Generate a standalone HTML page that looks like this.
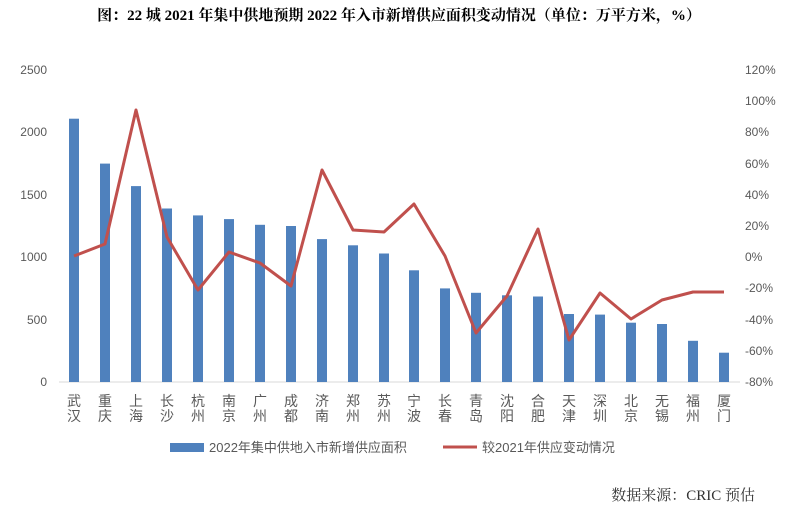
<!DOCTYPE html><html><head><meta charset="utf-8"><style>body{margin:0;background:#fff}svg{display:block}text{font-family:"Liberation Sans","Noto Sans CJK SC",sans-serif}</style></head><body>
<svg width="799" height="510" viewBox="0 0 799 510" xmlns="http://www.w3.org/2000/svg">
<text x="399" y="20" text-anchor="middle" font-size="15" font-weight="bold" style="font-family:'Liberation Serif','Noto Serif CJK SC',serif">图：22 城 2021 年集中供地预期 2022 年入市新增供应面积变动情况（单位：万平方米，%）</text>
<g font-size="12" fill="#595959" text-anchor="end">
<text x="47" y="386">0</text><text x="47" y="324">500</text><text x="47" y="261">1000</text><text x="47" y="199">1500</text><text x="47" y="136">2000</text><text x="47" y="74">2500</text>
</g>
<g font-size="12" fill="#595959" text-anchor="start">
<text x="745" y="74">120%</text><text x="745" y="105">100%</text><text x="745" y="136">80%</text><text x="745" y="168">60%</text><text x="745" y="199">40%</text><text x="745" y="230">20%</text><text x="745" y="261">0%</text><text x="745" y="292">-20%</text><text x="745" y="324">-40%</text><text x="745" y="355">-60%</text><text x="745" y="386">-80%</text>
</g>
<line x1="59" y1="382" x2="740" y2="382" stroke="#d9d9d9" stroke-width="1"/>
<g fill="#4f81bd">
<rect x="69" y="118.7" width="10" height="263.3"/>
<rect x="100" y="163.6" width="10" height="218.4"/>
<rect x="131" y="186.1" width="10" height="195.9"/>
<rect x="162" y="208.5" width="10" height="173.5"/>
<rect x="193" y="215.4" width="10" height="166.6"/>
<rect x="224" y="219.1" width="10" height="162.9"/>
<rect x="255" y="224.8" width="10" height="157.2"/>
<rect x="286" y="226" width="10" height="156"/>
<rect x="317" y="239.1" width="10" height="142.9"/>
<rect x="348" y="245.3" width="10" height="136.7"/>
<rect x="379" y="253.5" width="10" height="128.5"/>
<rect x="409" y="270.3" width="10" height="111.7"/>
<rect x="440" y="288.4" width="10" height="93.6"/>
<rect x="471" y="292.8" width="10" height="89.2"/>
<rect x="502" y="295.3" width="10" height="86.7"/>
<rect x="533" y="296.5" width="10" height="85.5"/>
<rect x="564" y="314" width="10" height="68"/>
<rect x="595" y="314.6" width="10" height="67.4"/>
<rect x="626" y="322.7" width="10" height="59.3"/>
<rect x="657" y="324" width="10" height="58"/>
<rect x="688" y="340.8" width="10" height="41.2"/>
<rect x="719" y="352.7" width="10" height="29.3"/>
</g>
<polyline fill="none" stroke="#c0504d" stroke-width="3" stroke-linejoin="round" points="74,256 105,244 136,110 167,237 198,290 229,252 260,263 291,286 322,170 353,230 384,232 414,204 445,256 476,333 507,296 538,229 569,340 600,293 631,319 662,300 693,292 724,292"/>
<g font-size="14" fill="#595959" text-anchor="middle">
<text x="74" y="406">武</text><text x="74" y="421">汉</text>
<text x="105" y="406">重</text><text x="105" y="421">庆</text>
<text x="136" y="406">上</text><text x="136" y="421">海</text>
<text x="167" y="406">长</text><text x="167" y="421">沙</text>
<text x="198" y="406">杭</text><text x="198" y="421">州</text>
<text x="229" y="406">南</text><text x="229" y="421">京</text>
<text x="260" y="406">广</text><text x="260" y="421">州</text>
<text x="291" y="406">成</text><text x="291" y="421">都</text>
<text x="322" y="406">济</text><text x="322" y="421">南</text>
<text x="353" y="406">郑</text><text x="353" y="421">州</text>
<text x="384" y="406">苏</text><text x="384" y="421">州</text>
<text x="414" y="406">宁</text><text x="414" y="421">波</text>
<text x="445" y="406">长</text><text x="445" y="421">春</text>
<text x="476" y="406">青</text><text x="476" y="421">岛</text>
<text x="507" y="406">沈</text><text x="507" y="421">阳</text>
<text x="538" y="406">合</text><text x="538" y="421">肥</text>
<text x="569" y="406">天</text><text x="569" y="421">津</text>
<text x="600" y="406">深</text><text x="600" y="421">圳</text>
<text x="631" y="406">北</text><text x="631" y="421">京</text>
<text x="662" y="406">无</text><text x="662" y="421">锡</text>
<text x="693" y="406">福</text><text x="693" y="421">州</text>
<text x="724" y="406">厦</text><text x="724" y="421">门</text>
</g>
<rect x="170" y="443" width="34" height="9" fill="#4f81bd"/>
<text x="209" y="452" font-size="13" fill="#595959">2022年集中供地入市新增供应面积</text>
<line x1="443" y1="447" x2="477" y2="447" stroke="#c0504d" stroke-width="3"/>
<text x="482" y="452" font-size="13" fill="#595959">较2021年供应变动情况</text>
<text x="755" y="500" text-anchor="end" font-size="15" fill="#333" style="font-family:'Liberation Serif','Noto Serif CJK SC',serif">数据来源：CRIC 预估</text>
</svg></body></html>
